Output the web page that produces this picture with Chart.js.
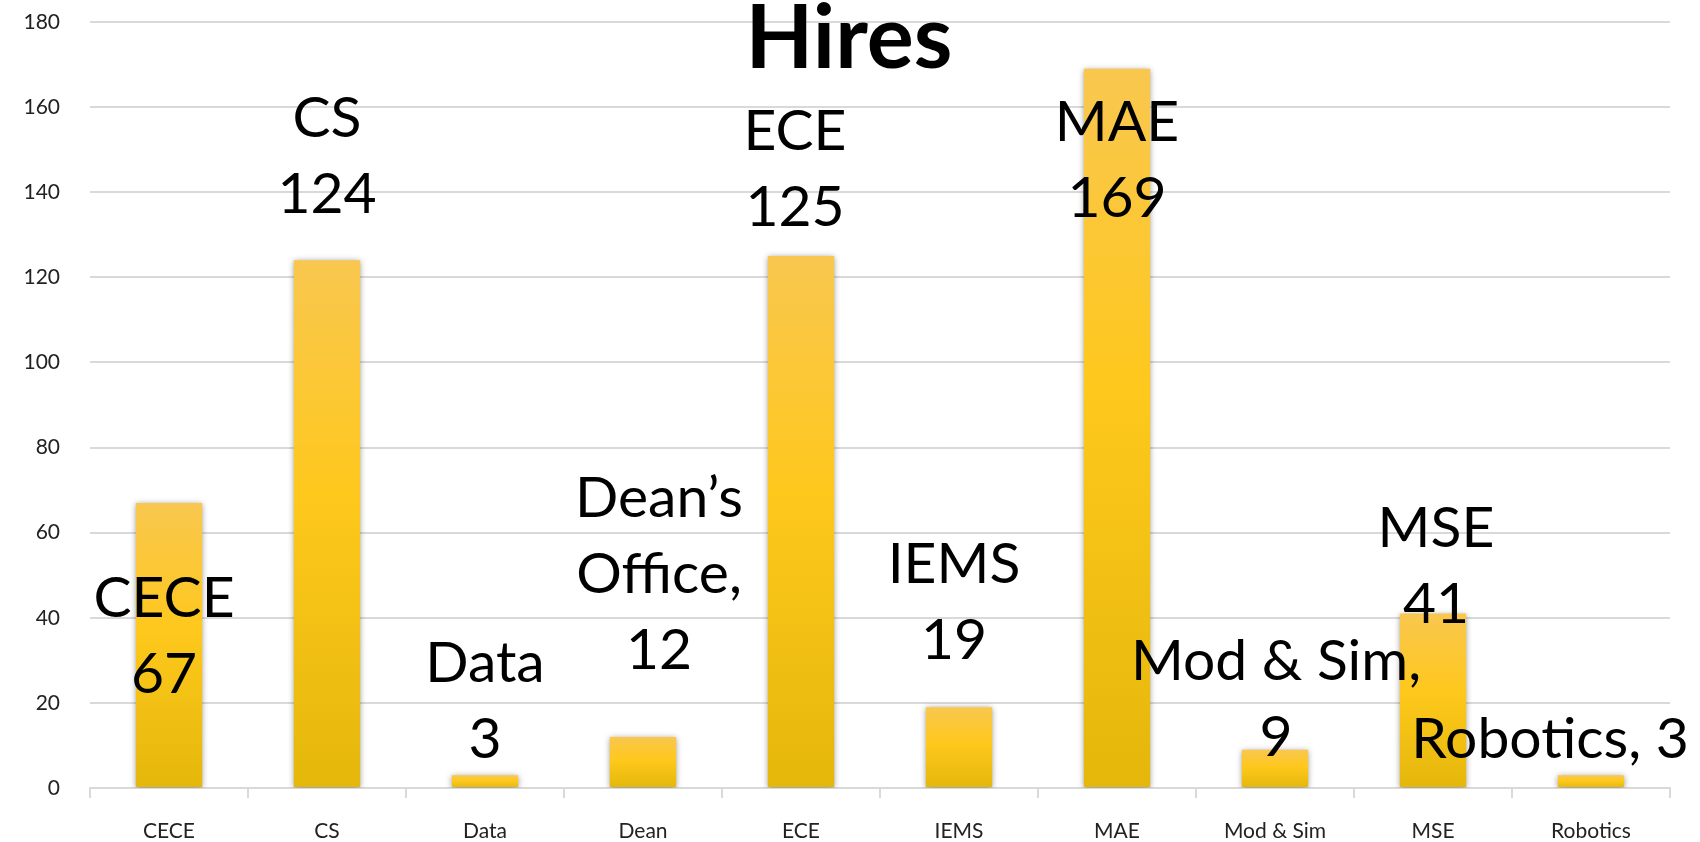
<!DOCTYPE html>
<html>
<head>
<meta charset="utf-8">
<script src="https://cdn.jsdelivr.net/npm/chart.js@4.4.1/dist/chart.umd.min.js"></script>
<style>
  html, body { margin: 0; padding: 0; background: #fff; }
  #wrap { width: 1700px; height: 842px; }
</style>
</head>
<body>
<div id="wrap"><canvas id="myChart" width="1700" height="842"></canvas></div>
<script>
const categories = ['CECE', 'CS', 'Data', 'Dean', 'ECE', 'IEMS', 'MAE', 'Mod & Sim', 'MSE', 'Robotics'];
const hires = [67, 124, 3, 12, 125, 19, 169, 9, 41, 3];
const labelLines = [
    ['CECE', '67'], ['CS', '124'], ['Data', '3'], ['Dean’s', 'Office,', '12'], ['ECE', '125'],
    ['IEMS', '19'], ['MAE', '169'], ['Mod & Sim,', '9'], ['MSE', '41'], ['Robotics, 3']
];
const yMin = 0, yMax = 180, yStep = 20;

// label block centre, shifted from the bar's top centre (px)
const labelShift = [[-5, 134], [0, -104], [0, -74], [16, -162], [-6, -86], [-5, -105], [0, 92], [1, -50], [3, -47], [-41, -36]];

const FONT = 'Lato, "Noto Sans", sans-serif';

function barFill(c) {
    const chart = c.chart;
    const y = chart.scales.y;
    if (!chart.chartArea || !y || c.type !== 'data') return '#FEC81C';
    const top = y.getPixelForValue(c.raw);
    const base = y.getPixelForValue(0);
    const g = chart.ctx.createLinearGradient(0, top, 0, base);
    g.addColorStop(0, '#F9C74F');
    g.addColorStop(0.45, '#FEC81C');
    g.addColorStop(1, '#E5B70B');
    return g;
}

const decor = {
    id: 'decor',
    beforeDatasetsDraw(chart) {
        const ctx = chart.ctx;
        ctx.save();
        ctx.shadowColor = 'rgba(0,0,0,0.4)';
        ctx.shadowBlur = 6;
        ctx.shadowOffsetY = 1;
    },
    afterDatasetsDraw(chart) {
        const ctx = chart.ctx;
        ctx.restore();
        const meta = chart.getDatasetMeta(0);
        ctx.save();
        ctx.fillStyle = '#000';
        ctx.textAlign = 'center';
        ctx.textBaseline = 'middle';
        ctx.font = '57px ' + FONT;
        const lh = 76;
        meta.data.forEach((bar, i) => {
            const lines = labelLines[i];
            const cx = bar.x + labelShift[i][0];
            const cy = bar.y + labelShift[i][1];
            const y0 = cy - (lines.length - 1) * lh / 2;
            lines.forEach((t, k) => ctx.fillText(t, cx, y0 + k * lh));
        });
        // title sits over the plot
        ctx.font = 'bold 88px ' + FONT;
        ctx.fillText('Hires', 849, 40);
        ctx.restore();
    }
};

let ctx = document.getElementById('myChart').getContext('2d');
let myChart = new Chart(ctx, {
    type: 'bar',
    data: {
        labels: categories,
        datasets: [{
            data: hires,
            backgroundColor: barFill,
            borderWidth: 0,
            categoryPercentage: 1,
            barPercentage: 0.42
        }]
    },
    options: {
        responsive: false,
        animation: false,
        layout: { padding: { top: 22, right: 30, bottom: 0, left: 0 } },
        plugins: {
            legend: { display: false },
            title: { display: false },
            tooltip: { enabled: false }
        },
        scales: {
            x: {
                offset: true,
                grid: {
                    offset: true,
                    drawOnChartArea: false,
                    color: '#d9d9d9',
                    lineWidth: 2,
                    tickLength: 10
                },
                border: { display: true, color: '#d9d9d9', width: 2 },
                ticks: {
                    color: '#222',
                    font: { family: FONT, size: 21 },
                    padding: 21,
                    maxRotation: 0,
                    autoSkip: false
                },
                afterFit(scale) {
                    scale.height = 54;
                    scale.paddingLeft = 0;
                    scale.paddingRight = 0;
                }
            },
            y: {
                min: yMin,
                max: yMax,
                grid: { color: '#d9d9d9', lineWidth: 2, drawTicks: false },
                border: { display: false },
                ticks: {
                    stepSize: yStep,
                    color: '#222',
                    font: { family: FONT, size: 21 },
                    padding: 30
                },
                afterFit(scale) {
                    scale.width = 90;
                    scale.paddingTop = 0;
                    scale.paddingBottom = 0;
                }
            }
        }
    },
    plugins: [decor]
});
</script>
</body>
</html>
